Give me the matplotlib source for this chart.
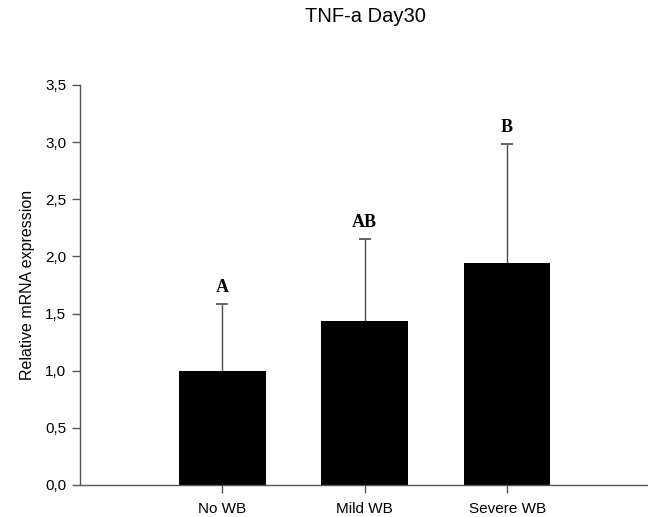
import numpy as np
import matplotlib.pyplot as plt

plt.rcParams['font.family'] = ['Liberation Sans', 'DejaVu Sans']

# Данные
groups = ['No WB', 'Mild WB', 'Severe WB']
means = [1.00, 1.435, 1.94]
errors = [0.58, 0.715, 1.04]
letters = ['A', 'AB', 'B']
yticks = [0.0, 0.5, 1.0, 1.5, 2.0, 2.5, 3.0, 3.5]

fig = plt.figure(figsize=(6.48, 5.17), dpi=100)
ax = fig.add_axes([80 / 648, 1 - 485 / 517, 568 / 648, 400 / 517])

x = np.arange(len(groups))
means = np.array(means)
errors = np.array(errors)
ax.bar(x, means, width=0.61, color='black', zorder=2)

# Только верхние погрешности (без нижнего "усика" на вершине столбца)
ax.vlines(x, means, means + errors, colors='#4a4a4a', linewidth=1, zorder=1)
ax.hlines(means + errors, x - 0.042, x + 0.042, colors='#4a4a4a', linewidth=1.2, zorder=1)

# Буквы значимости над погрешностями
for xi, m, e, lab in zip(x, means, errors, letters):
    ax.text(xi, m + e + 0.07, lab, ha='center', va='bottom',
            family='Liberation Serif', fontweight='bold', fontsize=13)

ax.set_xlim(-1.0, 2.99)
ax.set_ylim(0, 3.5)
ax.set_xticks(x)
ax.set_xticklabels(groups, fontsize=11)
ax.set_yticks(yticks)
ax.set_yticklabels([f'{v:.1f}'.replace('.', ',') for v in yticks], fontsize=11)
ax.set_ylabel('Relative mRNA expression', fontsize=11.5, labelpad=7)

for s in ['top', 'right']:
    ax.spines[s].set_visible(False)
for s in ['left', 'bottom']:
    ax.spines[s].set_color('#555555')
    ax.spines[s].set_linewidth(1)
ax.tick_params(direction='out', length=6, width=1, color='#555555', pad=4)
ax.tick_params(axis='x', pad=6)

fig.text(365 / 648, 1 - 16 / 517, 'TNF-a Day30', ha='center', va='center', fontsize=14.5)

fig.savefig('out.png', dpi=100)
